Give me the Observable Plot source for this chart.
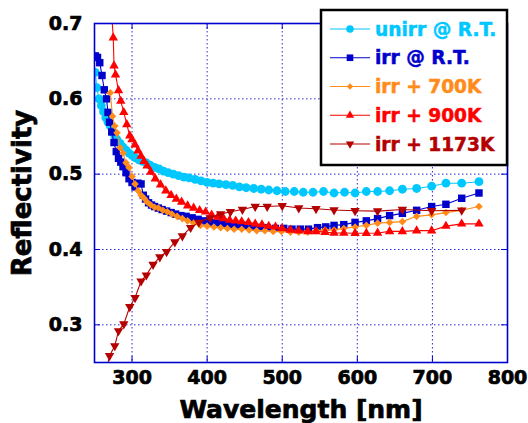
<!DOCTYPE html>
<html><head><meta charset="utf-8">
<script src="https://cdn.jsdelivr.net/npm/d3@7"></script>
<script src="https://cdn.jsdelivr.net/npm/@observablehq/plot@0.6"></script>
<style>body{margin:0;background:#fff;} #chart{width:528px;height:423px;}</style>
</head><body><div id="chart"></div>
<script>
// ---- data ----
const seriesNames = ["unirr @ R.T.", "irr @ R.T.", "irr + 700K", "irr + 900K", "irr + 1173K"];
const seriesColors = ["#00c8ff", "#0000cc", "#ff8c1a", "#ff0000", "#b40000"];
const xTicks = [300, 400, 500, 600, 700, 800];
const yTicks = [0.3, 0.4, 0.5, 0.6, 0.7];

const unirrX = [251,253,256,259,262,265,268,271,274,277,280,284,288,292,296,300,304,309,314,319,324,330,336,342,348,355,362,369,376,384,392,400,408,416,425,434,443,452,462,472,482,493,504,516,528,541,555,569,583,597,612,627,643,660,679,699,718,739,762];
const unirrR = [0.635,0.615,0.600,0.591,0.583,0.575,0.569,0.564,0.556,0.551,0.546,0.541,0.536,0.532,0.528,0.525,0.522,0.519,0.517,0.515,0.512,0.509,0.507,0.504,0.502,0.500,0.498,0.496,0.495,0.493,0.491,0.489,0.488,0.487,0.486,0.485,0.483,0.482,0.481,0.480,0.479,0.478,0.477,0.477,0.476,0.476,0.477,0.475,0.476,0.475,0.477,0.477,0.478,0.480,0.481,0.484,0.488,0.488,0.490];

const irrRTX = [251,254,257,260,263,266,268,270,273,276,279,282,285,288,292,296,300,304,308,312,315,318,322,326,330,335,340,346,352,358,365,372,380,388,396,404,413,422,431,440,450,460,470,480,491,502,513,524,535,547,558,569,582,597,612,627,643,660,679,699,718,739,762];
const irrRTR = [0.657,0.655,0.648,0.631,0.612,0.600,0.582,0.569,0.556,0.542,0.530,0.521,0.516,0.510,0.502,0.494,0.489,0.483,0.488,0.487,0.472,0.467,0.462,0.459,0.457,0.455,0.453,0.451,0.449,0.447,0.445,0.444,0.442,0.440,0.438,0.436,0.435,0.434,0.433,0.432,0.431,0.430,0.429,0.429,0.428,0.428,0.427,0.427,0.427,0.429,0.430,0.432,0.433,0.436,0.438,0.441,0.445,0.448,0.452,0.457,0.460,0.468,0.475];

const k700X = [271,274,277,280,284,288,292,296,300,304,308,312,316,320,325,330,335,341,347,353,360,367,374,382,391,400,409,418,427,436,446,456,466,477,488,499,511,522,534,545,557,569,582,597,612,627,643,660,679,699,718,739,762];
const k700R = [0.608,0.577,0.564,0.555,0.535,0.528,0.515,0.509,0.497,0.487,0.478,0.472,0.468,0.463,0.459,0.456,0.455,0.452,0.450,0.447,0.444,0.441,0.438,0.435,0.432,0.431,0.430,0.429,0.428,0.427,0.427,0.426,0.425,0.425,0.424,0.424,0.423,0.423,0.423,0.425,0.426,0.426,0.428,0.430,0.432,0.435,0.436,0.437,0.444,0.446,0.449,0.452,0.457];

const k900X = [271,275,276,278,282,285,289,293,297,300,304,308,312,316,320,325,331,338,345,352,359,366,374,382,390,398,406,414,422,430,438,446,455,464,473,482,491,500,511,522,534,545,557,569,582,597,612,627,643,660,679,699,718,739,762];
const k900R = [0.74,0.681,0.644,0.632,0.611,0.597,0.582,0.566,0.551,0.546,0.539,0.531,0.524,0.517,0.511,0.503,0.494,0.486,0.478,0.472,0.467,0.463,0.458,0.455,0.452,0.450,0.446,0.443,0.441,0.439,0.438,0.437,0.436,0.434,0.433,0.431,0.430,0.428,0.426,0.425,0.424,0.424,0.423,0.422,0.422,0.4215,0.4215,0.422,0.424,0.424,0.425,0.425,0.431,0.434,0.434];

const k1173X = [265,270,277,282,289,297,304,312,319,328,337,346,357,367,378,389,404,418,431,447,464,480,500,522,545,569,597,627,660,699,739];
const k1173R = [0.235,0.259,0.272,0.292,0.301,0.324,0.336,0.358,0.366,0.380,0.390,0.397,0.410,0.418,0.429,0.436,0.442,0.447,0.450,0.453,0.457,0.457,0.458,0.455,0.454,0.4525,0.4515,0.451,0.453,0.4515,0.452];

// ---- build table ----
const seriesXY = [[unirrX, unirrR], [irrRTX, irrRTR], [k700X, k700R], [k900X, k900R], [k1173X, k1173R]];
const rows = [];
seriesXY.forEach(([xs, ys], s) => xs.forEach((x, i) => rows.push({series: seriesNames[s], wl: x, r: ys[i]})));

const downTriangle = {
  draw(ctx, size) {
    const s = Math.sqrt(size * 4 / Math.sqrt(3));
    const h = s * Math.sqrt(3) / 2;
    ctx.moveTo(-s / 2, -h / 3);
    ctx.lineTo(s / 2, -h / 3);
    ctx.lineTo(0, 2 * h / 3);
    ctx.closePath();
  }
};
const symbols = ["circle", "square", "diamond2", "triangle", downTriangle];
const radii = [4.4, 4.2, 3.4, 3.5, 3.5];

const gridColor = "#2a2ad0";
const innerX = xTicks.filter(d => d < 800);
const innerY = yTicks.filter(d => d < 0.7);

const seriesMarks = seriesNames.flatMap((name, s) => {
  const d = rows.filter(r => r.series === name);
  return [
    Plot.line(d, {x: "wl", y: "r", stroke: seriesColors[s], strokeWidth: 1.1, clip: true}),
    Plot.dot(d, {x: "wl", y: "r", symbol: symbols[s], r: radii[s], fill: seriesColors[s], stroke: "none", clip: true})
  ];
});

const plot = Plot.plot({
  width: 528, height: 423,
  marginLeft: 94, marginRight: 21, marginTop: 23, marginBottom: 61,
  style: {fontFamily: "DejaVu Sans", fontWeight: "bold", background: "#fff", color: "#000", overflow: "visible"},
  x: {domain: [250, 800]},
  y: {domain: [0.25, 0.7]},
  marks: [
    Plot.ruleX(innerX, {x: d => d, stroke: gridColor, strokeWidth: 1, strokeDasharray: "1.5,2.5"}),
    Plot.ruleY(innerY, {y: d => d, stroke: gridColor, strokeWidth: 1, strokeDasharray: "1.5,2.5"}),
    Plot.ruleX(innerX, {x: d => d, stroke: "#0000cc", strokeWidth: 1, insetTop: 333}),
    Plot.ruleX(innerX, {x: d => d, stroke: "#0000cc", strokeWidth: 1, insetBottom: 333}),
    Plot.ruleY(innerY, {y: d => d, stroke: "#0000cc", strokeWidth: 1, insetRight: 407}),
    Plot.ruleY(innerY, {y: d => d, stroke: "#0000cc", strokeWidth: 1, insetLeft: 407}),
    Plot.axisX({ticks: xTicks, tickSize: 0, tickPadding: 8, fontSize: 19, label: null, tickFormat: d => String(d)}),
    Plot.axisY({ticks: yTicks, tickSize: 0, tickPadding: 12, fontSize: 19, label: null, tickFormat: d => d.toFixed(1)}),
    ...seriesMarks,
    Plot.frame({stroke: "#0000cc", strokeWidth: 1.6}),
    Plot.text(["Wavelength [nm]"], {frameAnchor: "bottom", textAnchor: "middle", dy: 55, fontSize: 25, fontWeight: "bold", fill: "#000"}),
    Plot.text(["Reflectivity"], {frameAnchor: "left", textAnchor: "middle", dx: -72, rotate: -90, fontSize: 26, fontWeight: "bold", fill: "#000"})
  ]
});

document.getElementById("chart").appendChild(plot);

const svg = d3.select(plot);
// heavier glyphs, like the reference's black face
svg.selectAll("text").attr("stroke", "#000").attr("stroke-width", 0.7).attr("paint-order", "stroke");

// ---- legend ----
const lg = svg.append("g").attr("class", "legend").attr("text-anchor", "start");
lg.append("rect").attr("x", 321).attr("y", 10).attr("width", 186).attr("height", 155)
  .attr("fill", "#fff").attr("stroke", "#000").attr("stroke-width", 2.5);
const legendSym = [d3.symbolCircle, d3.symbolSquare, d3.symbolDiamond2, d3.symbolTriangle, downTriangle];
const legendSize = [44, 44, 26, 30, 30];
seriesNames.forEach((name, i) => {
  const y = 29 + i * 28.75;
  lg.append("line").attr("x1", 330).attr("x2", 370).attr("y1", y).attr("y2", y)
    .attr("stroke", seriesColors[i]).attr("stroke-width", 1.1);
  lg.append("path").attr("transform", `translate(350,${y})`)
    .attr("d", d3.symbol(legendSym[i], legendSize[i])()).attr("fill", seriesColors[i]);
  lg.append("text").attr("x", 375).attr("y", y).attr("dy", "0.36em")
    .attr("text-anchor", "start")
    .attr("font-family", "DejaVu Sans").attr("font-weight", "bold").attr("font-size", 18.6)
    .attr("fill", seriesColors[i]).attr("stroke", seriesColors[i]).attr("stroke-width", 0.5)
    .text(name);
});
</script>
</body></html>
